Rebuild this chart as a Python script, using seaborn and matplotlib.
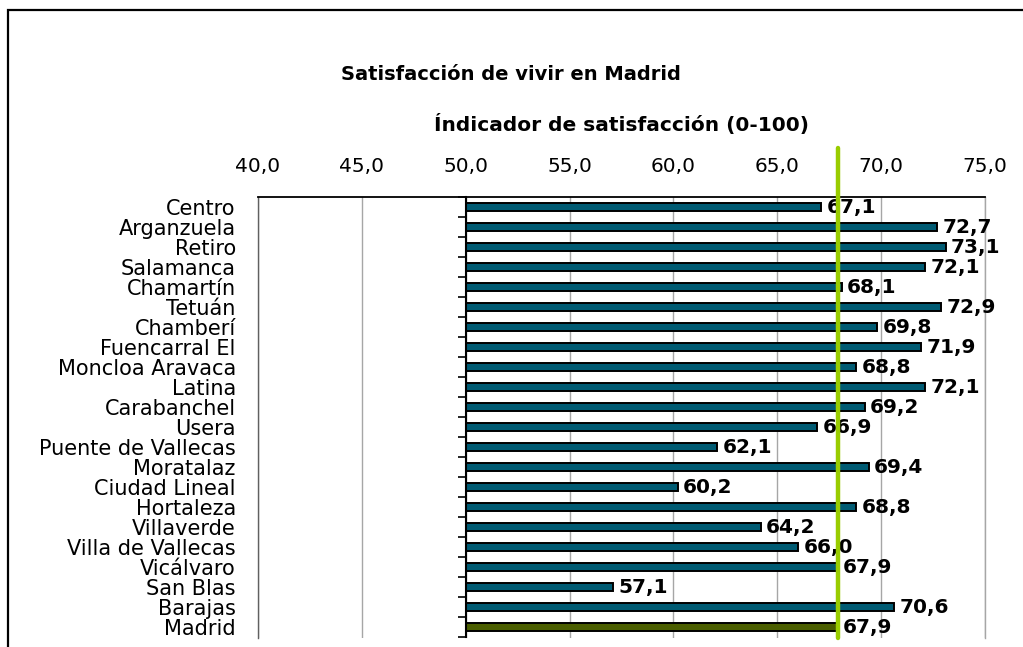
import matplotlib
matplotlib.use("Agg")
import matplotlib.pyplot as plt
from matplotlib.patches import Rectangle
from matplotlib.ticker import FuncFormatter, FixedLocator
import seaborn as sns
import pandas as pd

distritos = ["Centro", "Arganzuela", "Retiro", "Salamanca", "Chamartín", "Tetuán",
             "Chamberí", "Fuencarral El", "Moncloa Aravaca", "Latina", "Carabanchel",
             "Usera", "Puente de Vallecas", "Moratalaz", "Ciudad Lineal", "Hortaleza",
             "Villaverde", "Villa de Vallecas", "Vicálvaro", "San Blas", "Barajas", "Madrid"]
valores = [67.1, 72.7, 73.1, 72.1, 68.1, 72.9, 69.8, 71.9, 68.8, 72.1, 69.2,
           66.9, 62.1, 69.4, 60.2, 68.8, 64.2, 66.0, 67.9, 57.1, 70.6, 67.9]
eje_ticks = [40, 45, 50, 55, 60, 65, 70, 75]
BASE = 50.0  # value axis crosses the category axis here

titulo = "Satisfacción de vivir en Madrid"
eje_titulo = "Índicador de satisfacción (0-100)"

df = pd.DataFrame({"distrito": distritos, "valor": valores})
df["rel"] = df["valor"] - BASE
madrid_rel = df.loc[df["distrito"] == "Madrid", "rel"].iloc[0]

sns.set_theme(style="white")
plt.rcParams["font.family"] = ["DejaVu Sans"]
plt.rcParams["text.color"] = "black"
plt.rcParams["axes.labelcolor"] = "black"

W, H = 1023, 647
fig = plt.figure(figsize=(W / 100, H / 100), dpi=100)
fig.patch.set_facecolor("white")

# outer chart frame
fig.patches.append(Rectangle((8 / W, -0.2), 1.2, 1 - 10 / H + 0.2,
                             transform=fig.transFigure, fill=False,
                             edgecolor="black", linewidth=1.6, zorder=0))

left, right, top, bottom = 258, 985, 197, 638
ax = fig.add_axes([left / W, 1 - bottom / H, (right - left) / W, (bottom - top) / H])

teal = "#005b73"
olive = "#4b5e00"
palette = {d: (olive if d == "Madrid" else teal) for d in distritos}

sns.barplot(data=df, y="distrito", x="rel", hue="distrito", palette=palette,
            order=distritos, hue_order=distritos, orient="h", legend=False,
            width=0.44, edgecolor="black", linewidth=1.4, saturation=1, ax=ax)

fmt_val = lambda v: f"{v + BASE:.1f}".replace(".", ",")
for c in ax.containers:
    ax.bar_label(c, fmt=fmt_val, padding=4, fontsize=14.5, fontweight="bold",
                 color="black", zorder=4)

ax.set_xlim(eje_ticks[0] - BASE, eje_ticks[-1] - BASE)
n = len(distritos)
ax.set_ylim(n - 0.5 + 0.05, -0.5)

ax.xaxis.set_major_locator(FixedLocator([t - BASE for t in eje_ticks]))
ax.xaxis.set_major_formatter(FuncFormatter(lambda v, p: f"{v + BASE:.1f}".replace(".", ",")))
ax.xaxis.tick_top()
ax.tick_params(axis="x", length=0, pad=15, labelsize=14.5, labelcolor="black")
ax.tick_params(axis="y", length=0, pad=16, labelsize=15, labelcolor="black")
ax.set_ylabel("")
ax.set_xlabel(eje_titulo, fontsize=14.5, fontweight="bold", labelpad=19, color="black")
ax.xaxis.set_label_position("top")

ax.grid(axis="x", color="#a6a6a6", linewidth=1.0)
ax.grid(axis="y", visible=False)
ax.set_axisbelow(True)
ax.spines["top"].set_color("black")
ax.spines["top"].set_linewidth(1.3)
ax.spines["left"].set_color("#606060")
ax.spines["left"].set_linewidth(1.0)
ax.spines["right"].set_color("#a6a6a6")
ax.spines["right"].set_linewidth(1.0)
ax.spines["bottom"].set_visible(False)

# category axis crossing at 50, with boundary tick marks
ax2 = ax.twinx()
ax2.set_ylim(ax.get_ylim())
ax2.yaxis.set_ticks_position("left")
ax2.spines["left"].set_position(("data", 0))
for s in ["top", "right", "bottom"]:
    ax2.spines[s].set_visible(False)
ax2.spines["left"].set_color("black")
ax2.spines["left"].set_linewidth(1.5)
ax2.spines["left"].set_bounds(n - 0.5, -0.5)
ax2.yaxis.set_major_locator(FixedLocator([i - 0.5 for i in range(n + 1)]))
ax2.tick_params(axis="y", length=6, width=1.2, color="black", labelleft=False,
                labelright=False, direction="out")
ax2.grid(False)
ax2.patch.set_visible(False)

# reference line at Madrid average
ax2.axvline(madrid_rel, ymin=0, ymax=(bottom - 148) / (bottom - top), color="#99cc00",
            linewidth=3.2, clip_on=False, zorder=6)

fig.text(511 / W, 1 - 74 / H, titulo, ha="center", va="center",
         fontsize=14, fontweight="bold", color="black")

fig.savefig("out.png", dpi=100, facecolor="white")
